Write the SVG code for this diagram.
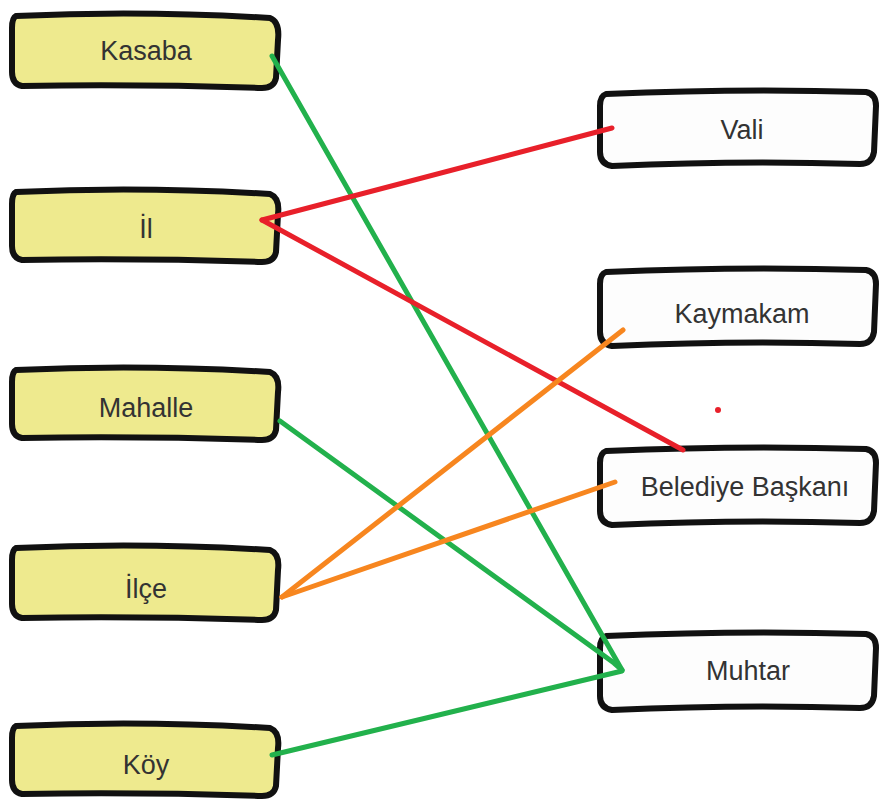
<svg xmlns="http://www.w3.org/2000/svg" width="881" height="801" viewBox="0 0 881 801">
<style>
.box{stroke:#111;stroke-width:6;stroke-linejoin:round}
.l{fill:#eeea8e}
.r{fill:#fdfdfd}
text{font-family:"Liberation Sans","DejaVu Sans",sans-serif;font-size:27px;fill:#333;text-anchor:middle;dominant-baseline:central}
.c{fill:none;stroke-width:5;stroke-linecap:round}
.g{stroke:#22b14c}
.rd{stroke:#e8202a}
.o{stroke:#f7861f}
</style>
<rect width="881" height="801" fill="#fff"/>
<g id="kasaba"><path class="box l" d="M16,16 Q140,10 270,18 Q280,22 278,40 L276,78 Q274,88 262,88 Q140,84 22,86 Q12,84 12,72 L12,28 Q12,18 16,16 Z"/><text x="146" y="51">Kasaba</text></g>
<g id="il"><path class="box l" d="M16,192 Q140,186 270,194 Q280,198 278,214 L276,252 Q274,262 262,262 Q140,258 22,260 Q12,258 12,246 L12,204 Q12,194 16,192 Z"/><text x="146" y="229">İl</text></g>
<g id="mahalle"><path class="box l" d="M16,370 Q140,364 270,372 Q280,376 278,392 L276,430 Q274,440 262,440 Q140,436 22,438 Q12,436 12,424 L12,382 Q12,372 16,370 Z"/><text x="146" y="408">Mahalle</text></g>
<g id="ilce"><path class="box l" d="M16,548 Q140,542 270,550 Q280,554 278,570 L276,610 Q274,620 262,620 Q140,616 22,618 Q12,616 12,604 L12,560 Q12,550 16,548 Z"/><text x="146" y="589">İlçe</text></g>
<g id="koy"><path class="box l" d="M16,726 Q140,720 270,728 Q280,732 278,748 L276,786 Q274,796 262,796 Q140,792 22,794 Q12,792 12,780 L12,738 Q12,728 16,726 Z"/><text x="146" y="765">Köy</text></g>
<g id="vali"><path class="box r" d="M606,94 Q740,88 866,92 Q876,94 876,106 L874,152 Q872,164 860,164 Q740,160 612,166 Q600,164 600,152 L600,106 Q600,96 606,94 Z"/><text x="742" y="130">Vali</text></g>
<g id="kaymakam"><path class="box r" d="M606,272 Q740,266 866,270 Q876,272 876,284 L874,332 Q872,344 860,344 Q740,340 612,346 Q600,344 600,332 L600,284 Q600,274 606,272 Z"/><text x="742" y="314">Kaymakam</text></g>
<g id="belediye"><path class="box r" d="M606,451 Q740,445 866,449 Q876,451 876,463 L874,511 Q872,523 860,523 Q740,519 612,525 Q600,523 600,511 L600,463 Q600,453 606,451 Z"/><text x="745" y="487">Belediye Başkanı</text></g>
<g id="muhtar"><path class="box r" d="M606,636 Q740,630 866,634 Q876,636 876,648 L874,696 Q872,708 860,708 Q740,704 612,710 Q600,708 600,696 L600,648 Q600,638 606,636 Z"/><text x="748" y="671">Muhtar</text></g>
<g id="connectors">
<path class="c g" d="M272,56 L622,670"/>
<path class="c g" d="M280,421 L614,663 L622,670"/>
<path class="c g" d="M272,755 L622,671"/>
<path class="c rd" d="M262,220 L612,128"/>
<path class="c rd" d="M262,220 L683,450"/>
<path class="c o" d="M282,597 L623,330"/>
<path class="c o" d="M282,597 L615,482"/>
<circle cx="718" cy="410" r="3" fill="#e8202a"/>
</g>
</svg>
